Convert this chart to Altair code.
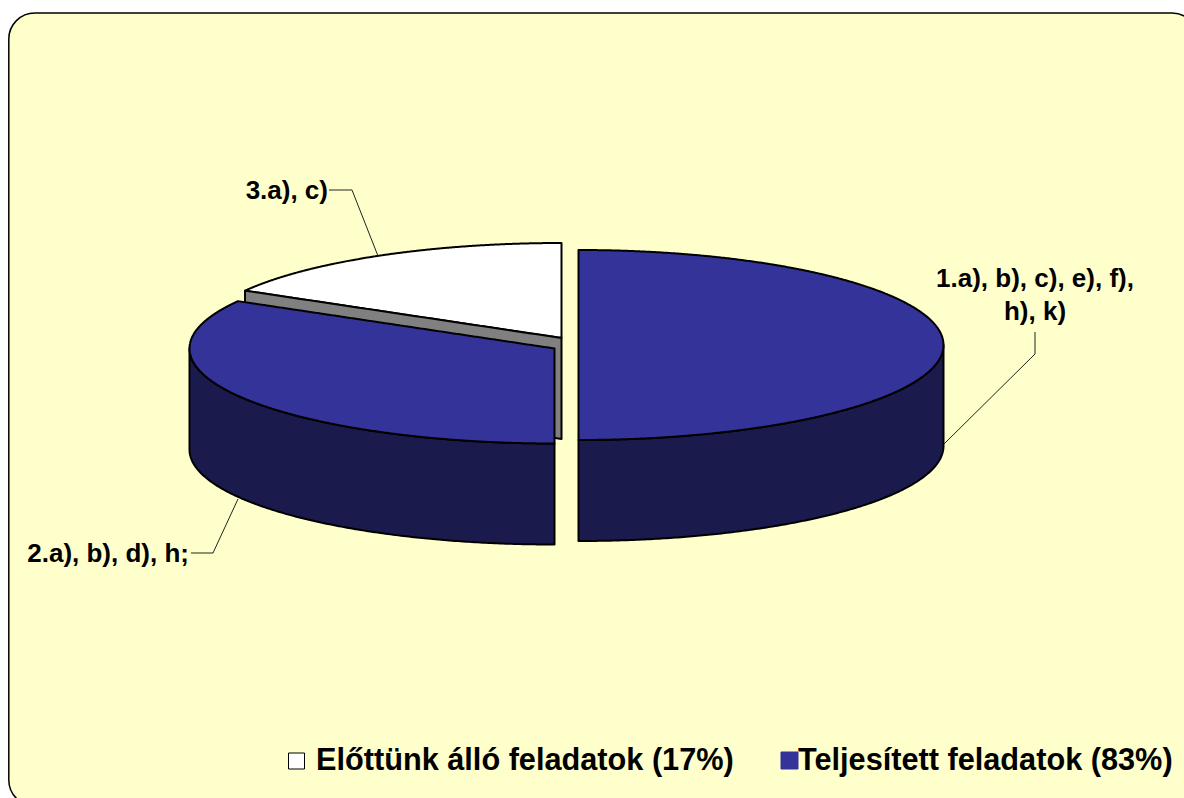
import numpy as np
import pandas as pd
import altair as alt

# Values
slice_names = ["1.a), b), c), e), f), h), k)", "2.a), b), d), h;", "3.a), c)"]
slice_shares = [50.0, 33.3, 16.7]
legend_labels = ["Előttünk álló feladatok (17%)", "Teljesített feladatok (83%)"]

BLUE = "#333399"
WALL = "#1A1A4D"
GREY = "#808080"
BG = "#FFFFCC"
FONT = "Liberation Sans"
W, H = 1168, 782

# Pie geometry (pixel-like data space); slice centres differ because slices are exploded
centres = [(577.5, 345), (553.5, 348.5), (560.5, 338)]
A, B, DEPTH = 365, 95, 101
sx = alt.Scale(domain=[8, 1176], nice=False, zero=False)
sy = alt.Scale(domain=[790, 8], nice=False, zero=False)
X = alt.X("x:Q", scale=sx, axis=None)
Y = alt.Y("y:Q", scale=sy, axis=None)

cum = np.cumsum([0] + slice_shares) / sum(slice_shares) * 2 * np.pi
angles = list(zip(cum[:-1], cum[1:]))


def rim(c, t):
    return c[0] + A * np.sin(t), c[1] - B * np.cos(t)


def top_face(i):
    c, (t0, t1) = centres[i], angles[i]
    t = np.linspace(t0, t1, 240)
    px, py = rim(c, t)
    px = np.r_[c[0], px]
    py = np.r_[c[1], py]
    xs = np.unique(np.round(np.r_[px, np.linspace(px.min(), px.max(), 240)], 2))
    rows = []
    n = len(px)
    for x in xs:
        ys = []
        for k in range(n):
            x1, y1, x2, y2 = px[k], py[k], px[(k + 1) % n], py[(k + 1) % n]
            if min(x1, x2) - 0.006 <= x <= max(x1, x2) + 0.006:
                if abs(x2 - x1) < 1e-6:
                    ys += [y1, y2]
                else:
                    ys.append(y1 + (min(max(x, min(x1, x2)), max(x1, x2)) - x1) * (y2 - y1) / (x2 - x1))
        rows.append({"x": x, "y": min(ys), "y2": max(ys)})
    return pd.DataFrame(rows)


def wall(i):
    c = centres[i]
    t0, t1 = angles[i]
    t = np.linspace(max(t0, np.pi / 2), min(t1, 1.5 * np.pi), 200)
    px, py = rim(c, t)
    return pd.DataFrame({"x": px, "y": py, "y2": py + DEPTH})


def cut_face(i):
    c = centres[i]
    ex, ey = rim(c, angles[i][0])
    px = np.linspace(ex, c[0], 40)
    py = ey + (px - ex) * (c[1] - ey) / (c[0] - ex)
    return pd.DataFrame({"x": px, "y": py, "y2": py + DEPTH})


def piece(df, fill):
    return (
        alt.Chart(df)
        .mark_area(fill=fill, stroke="black", strokeWidth=2, strokeJoin="round", opacity=1)
        .encode(x=X, y=Y, y2=alt.Y2("y2:Q"))
    )


def texts(rows, align, size):
    return (
        alt.Chart(pd.DataFrame(rows))
        .mark_text(align=align, baseline="alphabetic", font=FONT, fontWeight="bold", fontSize=size, color="black")
        .encode(x=X, y=Y, text="t:N")
    )


panel = (
    alt.Chart(pd.DataFrame([{"x": 7.8, "x2": 1197, "y": 13, "y2": 806}]))
    .mark_rect(fill=BG, stroke="black", strokeWidth=1.5, cornerRadius=26)
    .encode(x=X, x2="x2:Q", y=Y, y2="y2:Q")
)

leaders = (
    alt.Chart(pd.DataFrame([
        {"g": 1, "o": 0, "x": 1034, "y": 332}, {"g": 1, "o": 1, "x": 1034, "y": 354}, {"g": 1, "o": 2, "x": 943, "y": 444},
        {"g": 2, "o": 0, "x": 190, "y": 553}, {"g": 2, "o": 1, "x": 212, "y": 553}, {"g": 2, "o": 2, "x": 237, "y": 499},
        {"g": 3, "o": 0, "x": 328, "y": 190}, {"g": 3, "o": 1, "x": 351, "y": 190}, {"g": 3, "o": 2, "x": 377, "y": 256},
    ]))
    .mark_line(color="#222222", strokeWidth=1)
    .encode(x=X, y=Y, detail="g:N", order="o:Q")
)

swatches = (
    alt.Chart(pd.DataFrame([
        {"x": 287.5, "x2": 303.5, "y": 753, "y2": 769, "c": "white", "s": "black"},
        {"x": 780, "x2": 797, "y": 752, "y2": 769, "c": BLUE, "s": BLUE},
    ]))
    .mark_rect(strokeWidth=1)
    .encode(x=X, x2="x2:Q", y=Y, y2="y2:Q",
            fill=alt.Fill("c:N", scale=None), stroke=alt.Stroke("s:N", scale=None))
)

chart = alt.layer(
    panel,
    piece(top_face(2), "white"),
    piece(cut_face(2), GREY),
    piece(wall(1), WALL),
    piece(top_face(1), BLUE),
    piece(wall(0), WALL),
    piece(top_face(0), BLUE),
    leaders,
    texts([{"x": 1034, "y": 287, "t": "1.a), b), c), e), f),"}, {"x": 1034, "y": 320, "t": "h), k)"}], "center", 26),
    texts([{"x": 188, "y": 562, "t": slice_names[1]}, {"x": 327, "y": 199, "t": slice_names[2]}], "right", 26),
    swatches,
    texts([{"x": 315, "y": 770, "t": legend_labels[0]}, {"x": 797, "y": 770, "t": legend_labels[1]}], "left", 30.7),
).properties(width=W, height=H, padding=0, background="white").configure_view(stroke=None)

chart.save("out.html", embed_options={"renderer": "svg", "actions": False,
                                      "defaultStyle": "html,body,#vis,.vega-embed,.vega-embed svg{overflow:visible!important} "
                                                      "body{margin-right:0!important;width:1176px} "
                                                      ".vega-embed{display:inline-block}"})
